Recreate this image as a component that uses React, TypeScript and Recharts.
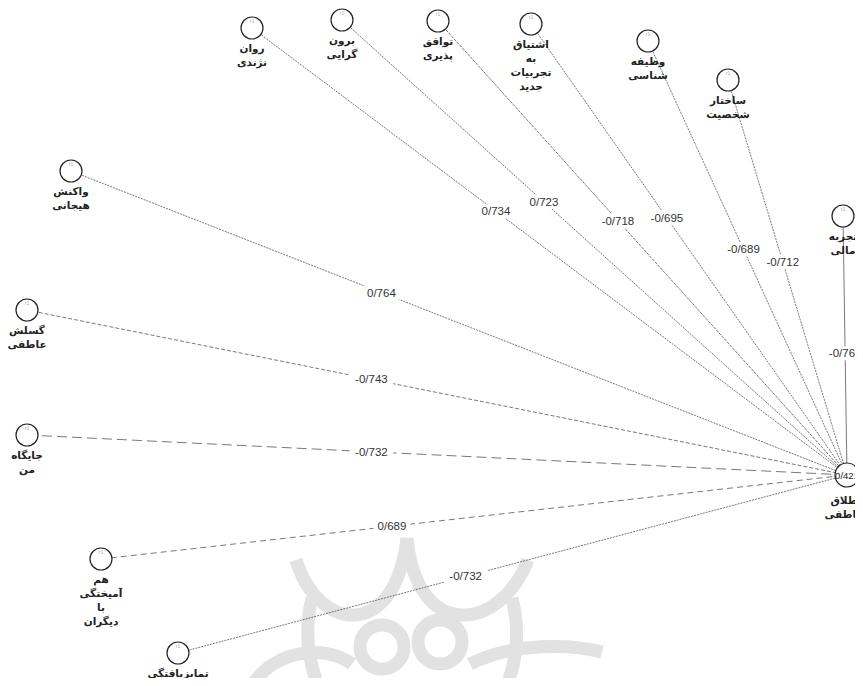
import { ScatterChart, Scatter, XAxis, YAxis } from "recharts";

// latent factors (sources)
const factorLines = [
  ["روان", "نژندی"],
  ["برون", "گرایی"],
  ["توافق", "پذیری"],
  ["اشتیاق", "به", "تجربیات", "جدید"],
  ["وظیفه", "شناسی"],
  ["ساختار", "شخصیت"],
  ["تجربه", "مالی"],
  ["واکنش", "هیجانی"],
  ["گسلش", "عاطفی"],
  ["جایگاه", "من"],
  ["هم", "آمیختگی", "با", "دیگران"],
  ["تمایزیافتگی"],
];
const factorX = [252, 342, 438, 531, 648, 728, 843, 71, 27, 27, 101, 178];
const factorY = [28, 20, 21, 24, 41, 80, 216, 171, 310, 435, 559, 653];
const loadings = [0.734, 0.723, -0.718, -0.695, -0.689, -0.712, -0.766, 0.764, -0.743, -0.732, 0.689, -0.732];

const outcomeLines = ["طلاق", "عاطفی"];
const outcomeX = 847;
const outcomeY = 475;
const outcomeR2 = 0.421;

// where the coefficient sits along each path, and the path's dash style
const labelAt = [0.41, 0.4, 0.44, 0.43, 0.48, 0.46, 0.53, 0.4, 0.42, 0.42, 0.39, 0.43];
const dashes = ["2 1", "2 1", "3 1", "2 1", "2 1", "2 1", "", "2 1", "4 2", "10 5", "6 4", "2 1"];

const W = 863;
const H = 686;
const persian = "'DejaVu Sans', 'Noto Sans', sans-serif";
const latin = "'Liberation Sans', Arial, sans-serif";

const fmt = (v: number) => v.toFixed(3).replace(".", "/");

const nodes = factorLines.map((lines, i) => ({ x: factorX[i], y: factorY[i], lines, main: false, r2: "" }));
const outcome = [{ x: outcomeX, y: outcomeY, lines: outcomeLines, main: true, r2: fmt(outcomeR2) }];
const coefLabels = loadings.map((v, i) => ({
  x: factorX[i] + (outcomeX - factorX[i]) * labelAt[i],
  y: factorY[i] + (outcomeY - factorY[i]) * labelAt[i],
  text: fmt(v),
}));

function NodeShape(props: any) {
  const { cx, cy, payload } = props;
  const r = payload.main ? 12 : 11;
  return (
    <g>
      <circle cx={cx} cy={cy} r={r} fill="#fff" stroke="#222" strokeWidth={1.2} />
      {payload.main ? (
        <text x={cx} y={cy + 4} textAnchor="middle" fontSize={9.5} fontFamily={latin} fill="#222">
          {payload.r2}
        </text>
      ) : (
        <text x={cx} y={cy - 5} textAnchor="middle" fontSize={5} fontFamily={latin} fill="#aaa">
          r1
        </text>
      )}
      {payload.lines.map((l: string, k: number) => (
        <text
          key={k}
          x={payload.main ? cx - 3 : cx}
          y={cy + (payload.main ? 29 : 24) + k * 14}
          textAnchor="middle"
          fontSize={10.5}
          fontWeight="bold"
          fontFamily={persian}
          fill="#222"
        >
          {l}
        </text>
      ))}
    </g>
  );
}

function CoefShape(props: any) {
  const { cx, cy, payload } = props;
  const w = payload.text.length * 6.6 + 4;
  return (
    <g>
      <rect x={cx - w / 2} y={cy - 7} width={w} height={14} fill="#fff" />
      <text x={cx} y={cy + 4} textAnchor="middle" fontSize={11.5} fontFamily={latin} fill="#333">
        {payload.text}
      </text>
    </g>
  );
}

function Watermark() {
  return (
    <svg width={W} height={H} style={{ position: "absolute", left: 0, top: 0 }}>
      <g fill="none" stroke="#e2e2e2" strokeWidth={13}>
        <path d="M 296 560 C 318 632, 395 642, 407 538" />
        <path d="M 407 538 C 417 642, 500 632, 528 560" />
        <circle cx={382} cy={647} r={22} />
        <circle cx={440} cy={642} r={22} />
        <path d="M 250 690 C 268 652, 322 642, 352 664" />
        <path d="M 470 664 C 515 642, 570 644, 602 652" />
        <path d="M 312 598 C 304 630, 308 662, 320 690" />
        <path d="M 512 598 C 520 630, 517 662, 505 690" />
      </g>
    </svg>
  );
}

export default function App() {
  return (
    <div style={{ position: "relative", width: W, height: H, margin: -8 }}>
      <Watermark />
      <div style={{ position: "absolute", left: 0, top: 0 }}>
        <ScatterChart width={W} height={H} margin={{ top: 0, right: 0, bottom: 0, left: 0 }} style={{ overflow: "visible" }}>
          <XAxis type="number" dataKey="x" domain={[0, W]} hide />
          <YAxis type="number" dataKey="y" domain={[0, H]} reversed hide />
          {nodes.map((n, i) => (
            <Scatter
              key={"e" + i}
              data={[{ x: n.x, y: n.y }, { x: outcomeX, y: outcomeY }]}
              line={{ stroke: "#555", strokeWidth: 0.8, strokeDasharray: dashes[i] || undefined }}
              shape={() => <g />}
              isAnimationActive={false}
            />
          ))}
          <Scatter data={coefLabels} shape={CoefShape} isAnimationActive={false} />
          <Scatter data={nodes} shape={NodeShape} isAnimationActive={false} />
          <Scatter data={outcome} shape={NodeShape} isAnimationActive={false} />
        </ScatterChart>
      </div>
    </div>
  );
}
